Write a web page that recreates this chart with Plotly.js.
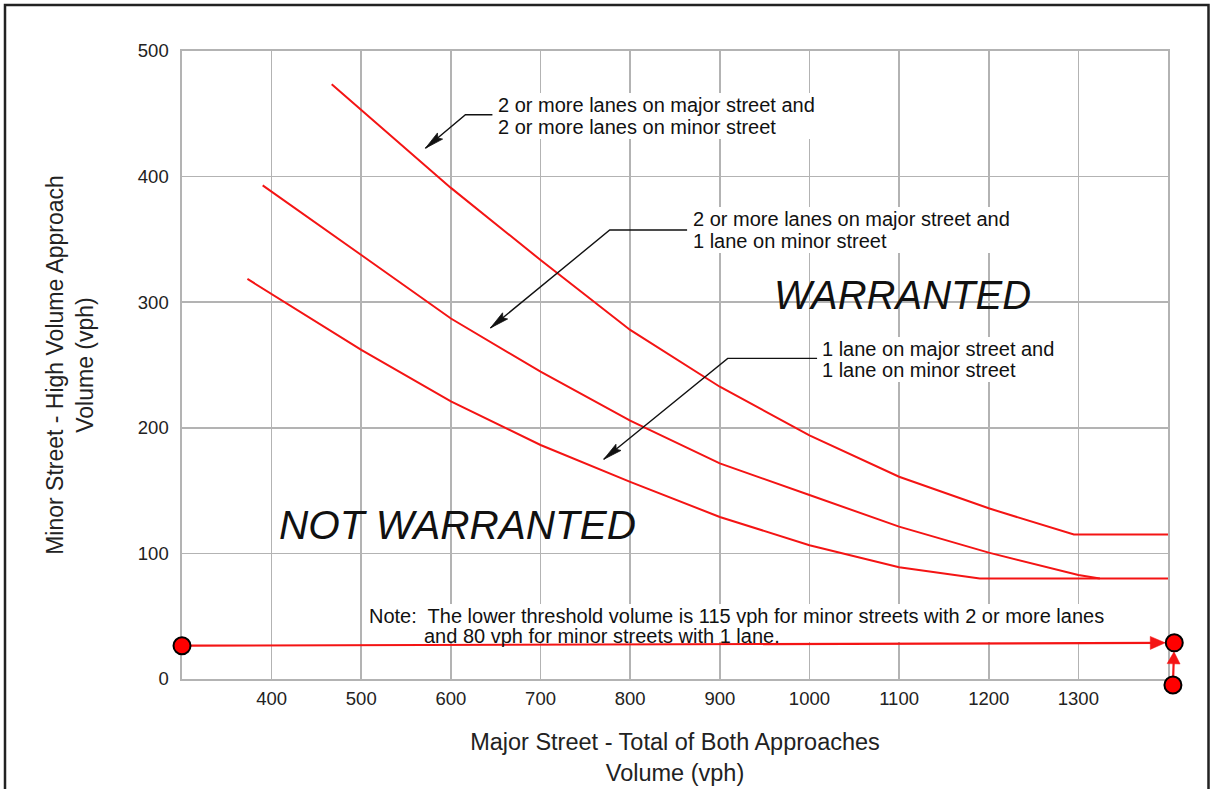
<!DOCTYPE html>
<html>
<head>
<meta charset="utf-8">
<script src="https://cdn.plot.ly/plotly-3.0.1.min.js"></script>
<style>html,body{margin:0;padding:0;background:#fff;}#chart{width:1210px;height:789px;}</style>
</head>
<body>
<div id="chart"></div>
<script>
// ---- data ----
const xTicks = [400, 500, 600, 700, 800, 900, 1000, 1100, 1200, 1300];
const yTicks = [0, 100, 200, 300, 400, 500];

// 2 or more lanes on major street and 2 or more lanes on minor street
const curve22X = [467, 500, 600, 700, 800, 900, 1000, 1100, 1200, 1295, 1400];
const curve22Y = [473.5, 453, 391, 333.6, 277.9, 232.7, 194, 161, 135.9, 115, 115];

// 2 or more lanes on major street and 1 lane on minor street
const curve21X = [390, 400, 500, 600, 700, 800, 900, 1000, 1100, 1200, 1300, 1324];
const curve21Y = [393, 388, 337.6, 287, 244.7, 205.7, 171.7, 146.5, 121.3, 100.6, 82.8, 80];

// 1 lane on major street and 1 lane on minor street
const curve11X = [373, 400, 500, 600, 700, 800, 900, 1000, 1100, 1190, 1400];
const curve11Y = [318.5, 306.5, 262, 221, 186.3, 157, 129, 106.5, 89, 80, 80];

// red marker dots drawn on the figure (outside the axes on the right / below)
const dotX = [300, 1407, 1405.5];
const dotY = [26.5, 28.8, -4.8];

// ---- geometry helpers ----
const X0 = 300, X1 = 1400, Y0 = 0, Y1 = 500;
const L = 182, R = 42, T = 51, B = 110, W = 1210, H = 789;
const PW = W - L - R, PH = H - T - B;
const kx = PW / (X1 - X0), ky = PH / (Y1 - Y0);
const toPX = x => (x - X0) / (X1 - X0);
const toPY = y => (y - Y0) / (Y1 - Y0);
// pixel (page) position -> paper fraction
const pxPaperX = px => (px - L) / PW;
const pxPaperY = py => (H - B - py) / PH;

function pathOf(points) {
  return points.map((p, i) => (i ? 'L' : 'M') + toPX(p[0]).toFixed(5) + ',' + toPY(p[1]).toFixed(5)).join(' ');
}
function headPath(tip, from, len, halfW, notch) {
  let dx = (tip[0] - from[0]) * kx, dy = (tip[1] - from[1]) * ky;
  const n = Math.hypot(dx, dy); dx /= n; dy /= n;
  const bx = -dx * len, by = -dy * len;
  const nx = -dy * halfW, ny = dx * halfW;
  const pts = [
    [0, 0],
    [bx + nx, by + ny],
    [-dx * (len - notch), -dy * (len - notch)],
    [bx - nx, by - ny]
  ].map(p => [tip[0] + p[0] / kx, tip[1] + p[1] / ky]);
  return pathOf(pts) + ' Z';
}
function shortened(a, b, startOff, endOff) {
  let dx = (b[0] - a[0]) * kx, dy = (b[1] - a[1]) * ky;
  const n = Math.hypot(dx, dy); dx /= n; dy /= n;
  return [[a[0] + dx * startOff / kx, a[1] + dy * startOff / ky],
          [b[0] - dx * endOff / kx, b[1] - dy * endOff / ky]];
}

const FONT = 'Liberation Sans, Arial, Helvetica, sans-serif';
const red = '#f41414';

const lineStyle = {color: red, width: 2};
const traces = [
  {x: curve22X, y: curve22Y, type: 'scatter', mode: 'lines', line: lineStyle, name: '2+ / 2+'},
  {x: curve21X, y: curve21Y, type: 'scatter', mode: 'lines', line: lineStyle, name: '2+ / 1'},
  {x: curve11X, y: curve11Y, type: 'scatter', mode: 'lines', line: lineStyle, name: '1 / 1'}
];

const shapes = [];
// white boxes behind the text blocks (they interrupt the grid)
const boxes = [[493, 93, 822, 139], [688, 207, 1015, 253], [817, 337, 1058, 382], [364, 604, 1108, 642]];
boxes.forEach(b => shapes.push({type: 'rect', xref: 'paper', yref: 'paper',
  x0: pxPaperX(b[0]), x1: pxPaperX(b[2]), y0: pxPaperY(b[3]), y1: pxPaperY(b[1]),
  fillcolor: '#fff', line: {width: 0}, layer: 'above'}));

// callout leader lines (data coordinates): text end -> elbow -> tip
const leaders = [
  [[646.3, 449.2], [616.2, 449.2], [571.6, 422.6]],
  [[863.5, 357.5], [777.2, 357.5], [644.1, 279.5]],
  [[1008.5, 255.3], [908.8, 255.3], [770.5, 174.9]]
];
leaders.forEach(pts => {
  shapes.push({type: 'path', xref: 'paper', yref: 'paper', path: pathOf(pts),
               line: {color: '#111', width: 1.4}, layer: 'above'});
  shapes.push({type: 'path', xref: 'paper', yref: 'paper', path: headPath(pts[2], pts[1], 19, 4, 3),
               fillcolor: '#111', line: {color: '#111', width: 0.8}, layer: 'above'});
});
// red arrows between the dots
const a1 = shortened([dotX[0], dotY[0]], [dotX[1], dotY[1]], 9, 9);
const a2 = shortened([dotX[2], dotY[2]], [dotX[1], dotY[1]], 9, 9);
[a1, a2].forEach(seg => {
  shapes.push({type: 'path', xref: 'paper', yref: 'paper', path: pathOf([seg[0], shortened(seg[0], seg[1], 0, 6)[1]]),
               line: {color: red, width: 2.2}, layer: 'above'});
});
shapes.push({type: 'path', xref: 'paper', yref: 'paper', path: headPath(a1[1], a1[0], 15, 6.5, 0),
             fillcolor: red, line: {color: red, width: 0.5}, layer: 'above'});
shapes.push({type: 'path', xref: 'paper', yref: 'paper', path: headPath(a2[1], a2[0], 12, 6.5, 0),
             fillcolor: red, line: {color: red, width: 0.5}, layer: 'above'});
// the dots themselves
dotX.forEach((x, i) => shapes.push({type: 'circle', xref: 'paper', yref: 'paper',
  xsizemode: 'pixel', ysizemode: 'pixel', xanchor: toPX(x), yanchor: toPY(dotY[i]),
  x0: -8.5, x1: 8.5, y0: -8.5, y1: 8.5, fillcolor: '#ff0000', line: {color: '#000', width: 2}, layer: 'above'}));
// outer frame of the figure
shapes.push({type: 'rect', xref: 'paper', yref: 'paper',
             x0: pxPaperX(5), x1: pxPaperX(1208.5), y0: pxPaperY(830), y1: pxPaperY(5),
             line: {color: '#222', width: 2.5}, fillcolor: 'rgba(0,0,0,0)', layer: 'above'});

function txt(x, y, text, size, opts) {
  return Object.assign({x: x, y: y, xref: 'x', yref: 'y', text: text, showarrow: false,
    xanchor: 'left', yanchor: 'middle', align: 'left',
    font: {family: FONT, size: size, color: '#111'}, borderpad: 0}, opts || {});
}

const annotations = [
  txt(651.5, 457, '2 or more lanes on major street and', 20),
  txt(651.5, 439.5, '2 or more lanes on minor street', 20),
  txt(869.5, 366.2, '2 or more lanes on major street and', 20),
  txt(869.5, 348.7, '1 lane on minor street', 20),
  txt(1013, 262.7, '1 lane on major street and', 20),
  txt(1013, 246.0, '1 lane on minor street', 20),
  txt(507, 49.8, 'Note:  The lower threshold volume is 115 vph for minor streets with 2 or more lanes', 20),
  txt(568.5, 34.6, 'and 80 vph for minor streets with 1 lane.', 20),
  {x: 1104.2, y: 305.7, xref: 'x', yref: 'y', text: '<i>WARRANTED</i>', showarrow: false,
   xanchor: 'center', yanchor: 'middle', font: {family: FONT, size: 40, color: '#111'}},
  {x: 607.3, y: 122.6, xref: 'x', yref: 'y', text: '<i>NOT WARRANTED</i>', showarrow: false,
   xanchor: 'center', yanchor: 'middle', font: {family: FONT, size: 40.5, color: '#111'}}
];

const gridCol = '#b3b3b3';
const layout = {
  width: W, height: H,
  margin: {l: L, r: R, t: T, b: B, pad: 0},
  paper_bgcolor: '#fff', plot_bgcolor: '#fff',
  showlegend: false,
  font: {family: FONT, color: '#222'},
  xaxis: {
    range: [X0, X1], tickmode: 'array', tickvals: xTicks, ticktext: xTicks.map(String),
    showgrid: true, gridcolor: gridCol, gridwidth: 1.6, zeroline: false,
    showline: true, linecolor: gridCol, linewidth: 1.6, mirror: true, ticks: '',
    tickfont: {family: FONT, size: 18.5, color: '#222'}, ticklabelstandoff: 2,
    title: {text: 'Major Street - Total of Both Approaches<br>Volume (vph)', standoff: 26,
            font: {family: FONT, size: 23.5, color: '#222'}},
    automargin: false, fixedrange: true
  },
  yaxis: {
    range: [Y0, Y1], tickmode: 'array', tickvals: yTicks, ticktext: yTicks.map(String),
    showgrid: true, gridcolor: gridCol, gridwidth: 1.6, zeroline: false,
    showline: true, linecolor: gridCol, linewidth: 1.6, mirror: true, ticks: '',
    tickfont: {family: FONT, size: 18.5, color: '#222'}, ticklabelstandoff: 8,
    title: {text: 'Minor Street - High Volume Approach<br>Volume (vph)', standoff: 38,
            font: {family: FONT, size: 23, color: '#222'}},
    automargin: false, fixedrange: true
  },
  shapes: shapes,
  annotations: annotations
};

Plotly.newPlot('chart', traces, layout, {displayModeBar: false, staticPlot: true});
</script>
</body>
</html>
